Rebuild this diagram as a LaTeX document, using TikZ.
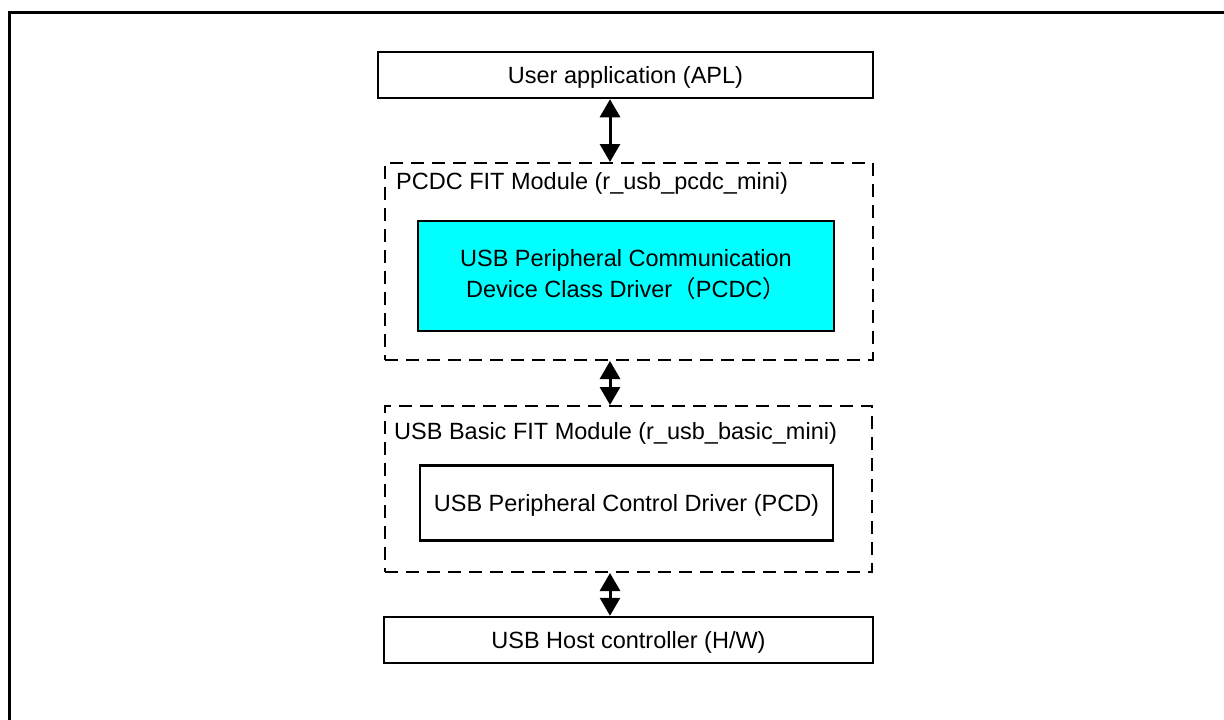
\documentclass[tikz,border=0pt]{standalone}
\usepackage{fontspec}
\setmainfont{Liberation Sans}
\newfontfamily\cjk{Noto Sans CJK JP}
\usetikzlibrary{arrows.meta}
\definecolor{aqua}{RGB}{0,255,255}
\begin{document}
\begin{tikzpicture}[x=1pt,y=-1pt,
  lbl/.style={font=\fontsize{23.5}{30}\selectfont, inner sep=0pt, text height=16.8pt, text depth=0pt},
  solidbox/.style={draw, line width=2.5pt, inner sep=0pt},
  dashbox/.style={draw, line width=2pt, dash pattern=on 13pt off 8pt, inner sep=0pt},
  dblarrow/.style={line width=3pt, {Triangle[length=18pt,width=20pt]}-{Triangle[length=18pt,width=20pt]}}
]
\useasboundingbox (0,0) rectangle (1224,720);
\begin{scope}
  \clip (0,0) rectangle (1224,720);
  \draw[line width=3pt] (9.5,12) rectangle (1260,760);
\end{scope}

\coordinate (ax) at (610,0);

\node[solidbox, lbl, minimum width=495pt, minimum height=46pt] (apl) at (625.5,75) {User application (APL)};

\node[dashbox, minimum width=488pt, minimum height=197pt] (fit1) at (629,261.5) {};
\node[lbl, anchor=base west] (fit1lbl) at (396,189) {PCDC FIT Module (r\_usb\_pcdc\_mini)};
\node[solidbox, fill=aqua, minimum width=416pt, minimum height=110pt] (pcdc) at (626,276) {};
\node[lbl] (pcdcA) at (626,258) {USB Peripheral Communication};
\node[lbl] (pcdcB) at (626,289) {Device Class Driver{\cjk （}PCDC{\cjk ）}};

\node[dashbox, minimum width=487pt, minimum height=166pt] (fit2) at (628.5,489) {};
\node[lbl, anchor=base west] (fit2lbl) at (394,439) {USB Basic FIT Module (r\_usb\_basic\_mini)};
\node[solidbox, lbl, minimum width=413pt, minimum height=75pt] (pcd) at (626.5,503) {USB Peripheral Control Driver (PCD)};

\node[solidbox, lbl, minimum width=489pt, minimum height=46pt] (hw) at (628.5,640) {USB Host controller (H/W)};

\draw[dblarrow] (apl.south -| ax) -- (fit1.north -| ax);
\draw[dblarrow] (fit1.south -| ax) -- (fit2.north -| ax);
\draw[dblarrow] (fit2.south -| ax) -- (hw.north -| ax);
\end{tikzpicture}
\end{document}
